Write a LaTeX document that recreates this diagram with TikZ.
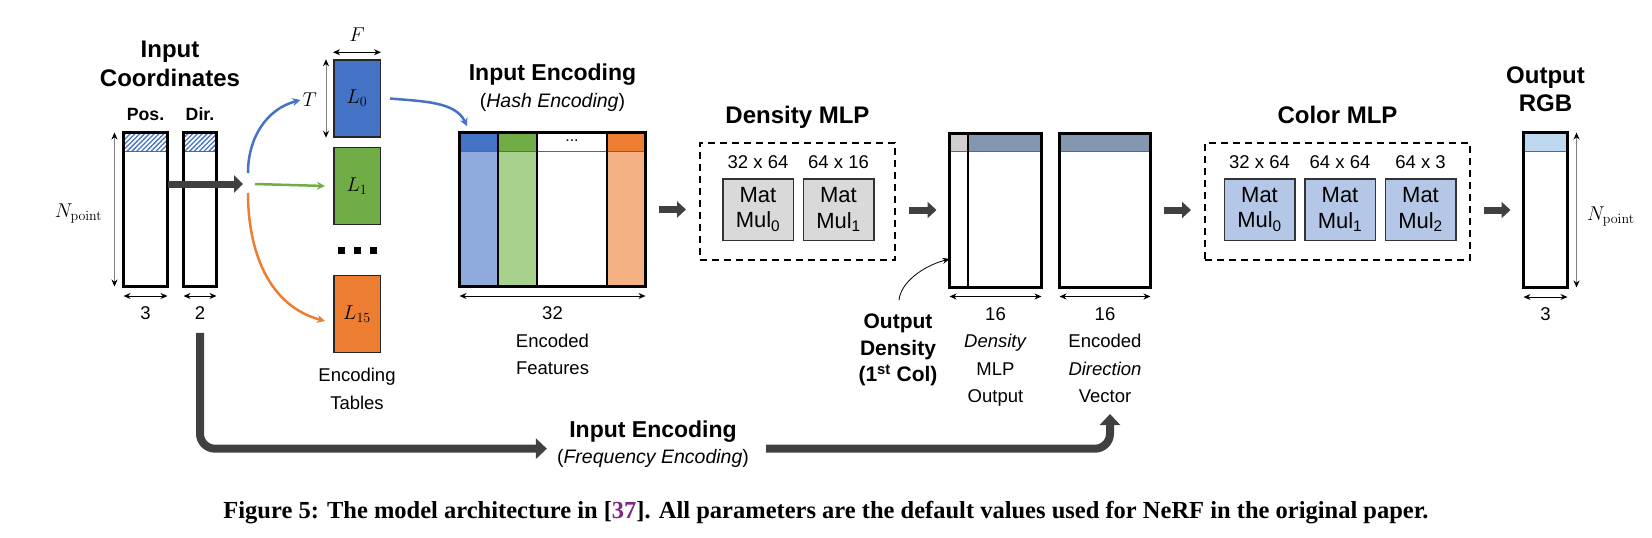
\RequirePackage{fix-cm}
\documentclass[tikz,border=0pt]{standalone}
\usepackage[no-math]{fontspec}
\setmainfont{Liberation Sans}
\newfontfamily\capfont{Liberation Serif}
\usepackage{amsmath}
\usetikzlibrary{arrows.meta,positioning,patterns.meta,calc}
\definecolor{tblue}{RGB}{68,114,196}
\definecolor{tgreen}{RGB}{112,173,71}
\definecolor{torange}{RGB}{237,125,49}
\definecolor{lblue}{RGB}{143,170,220}
\definecolor{lgreen}{RGB}{169,209,142}
\definecolor{lorange}{RGB}{244,177,131}
\definecolor{slate}{RGB}{132,151,176}
\definecolor{pale}{RGB}{208,206,206}
\definecolor{mmgray}{RGB}{217,217,217}
\definecolor{mmblue}{RGB}{180,199,231}
\definecolor{rgbhead}{RGB}{189,215,238}
\definecolor{darrow}{RGB}{64,64,64}
\definecolor{citecol}{RGB}{125,40,130}
\tikzset{font={\fontsize{18.5}{27.5}\selectfont}}
\newcommand\mathsz{\fontsize{20}{23}\selectfont}

\begin{document}
\begin{tikzpicture}[x=1pt,y=1pt,>={Stealth[length=7pt,width=6pt]},
    mat/.style={draw,line width=3pt,fill=white,inner sep=0pt,outer sep=0pt},
    head/.style={path picture={
        \fill[#1] (path picture bounding box.north west) rectangle ([yshift=-18.5pt]path picture bounding box.north east);
        \draw[line width=0.8pt,black!60] ([yshift=-18.5pt]path picture bounding box.north west) -- ([yshift=-18.5pt]path picture bounding box.north east);}},
    col/.style={draw,line width=1.5pt,inner sep=0pt,outer sep=0pt,minimum height=154pt},
    tbl/.style={draw=black!85,line width=1.5pt,inner sep=0pt,minimum width=46.5pt,minimum height=77pt,font=\mathsz},
    mmbox/.style={draw=black!80,line width=1.5pt,inner sep=0pt,minimum width=70.5pt,minimum height=61.5pt,align=center,font={\fontsize{22}{25.3}\selectfont}},
    mlp/.style={draw,dashed,dash pattern=on 7pt off 5pt,line width=2pt,minimum width=#1,minimum height=117pt},
    ttl/.style={font={\fontsize{24}{29}\selectfont\bfseries},inner sep=0pt},
    sub/.style={font={\fontsize{19.5}{24}\selectfont},inner sep=0pt},
    lbl/.style={align=center,inner sep=2pt},
    mathlbl/.style={font=\mathsz,inner sep=2pt},
    dimarr/.style={<->,line width=1pt},
    vdim/.style={{Stealth[length=7pt,width=6pt,black]}-{Stealth[length=7pt,width=6pt,black]},draw=black!50,line width=1pt},
    blk/.style={draw=darrow,line width=7pt,-{Triangle[length=9pt,width=16pt]},shorten <=13pt,shorten >=13pt},
    freq/.style={draw=darrow,line width=8pt,-{Triangle[length=11pt,width=20pt]},rounded corners=15pt},
    tarr/.style={line width=2.5pt,-{Stealth[length=8pt,width=8pt]}}]

  \useasboundingbox (0,0) rectangle (1652,-538);

  % input coordinates
  \node[mat,head={pattern={Lines[angle=45,distance=3.4pt,line width=1.3pt]},pattern color=tblue},
        minimum width=44pt,minimum height=154pt] (pos) at (145.5,-209.5) {};
  \node[mat,head={pattern={Lines[angle=45,distance=3.4pt,line width=1.3pt]},pattern color=tblue},
        minimum width=33pt,minimum height=154pt] (dir) at (200,-209.5) {};
  \node[font={\fontsize{17.7}{20}\selectfont\bfseries},inner sep=0pt,above=12pt of pos,anchor=base] {Pos.};
  \node[font={\fontsize{17.7}{20}\selectfont\bfseries},inner sep=0pt,above=12pt of dir,anchor=base] {Dir.};
  \node[ttl,anchor=base] (incb) at (170,-86.7) {Coordinates};
  \node[ttl,above=29.4pt of incb.base,anchor=base] {Input};
  \draw[vdim] ([xshift=-9pt]pos.north west) -- ([xshift=-9pt]pos.south west);
  \node[mathlbl,left=19pt of pos.west,yshift=-4.5pt] {$N_{\mathrm{point}}$};
  \draw[dimarr] ([yshift=-9.5pt]pos.south west) -- ([yshift=-9.5pt]pos.south east);
  \node[lbl,below=18pt of pos] (n3) {3};
  \draw[dimarr] ([yshift=-9.5pt]dir.south west) -- ([yshift=-9.5pt]dir.south east);
  \node[lbl,below=18pt of dir] (n2) {2};
  \coordinate (split) at (243,-184);
  \draw[blk,shorten <=0pt,shorten >=0pt,-{Triangle[length=9pt,width=17pt]}] (pos.east |- split) -- (split);

  % encoding tables
  \node[tbl,fill=tblue] (L0) at (357,-98.5) {$L_0$};
  \node[tbl,fill=tgreen,below=9pt of L0] (L1) {$L_1$};
  \node[tbl,fill=torange,below=49.5pt of L1] (L15) {$L_{15}$};
  \node (dots) at ($(L1)!0.5!(L15)$) {\rule{7pt}{7pt}\hspace{9pt}\rule{7pt}{7pt}\hspace{9pt}\rule{7pt}{7pt}};
  \node[lbl,below=13pt of L15] {Encoding\\Tables};
  \draw[vdim] ([xshift=-7pt]L0.north west) -- ([xshift=-7pt]L0.south west);
  \node[mathlbl,left=14pt of L0.west,yshift=-1.5pt] (Tl) {$T$};
  \draw[dimarr] ([yshift=7pt]L0.north west) -- ([yshift=7pt]L0.north east);
  \node[mathlbl,above=15.5pt of L0] {$F$};
  \draw[tarr,tblue] ([shift={(5pt,11pt)}]split) to[out=90,in=195] (Tl.west);
  \draw[tarr,tgreen] ([xshift=12pt]split) -- ([xshift=-8pt]L1.west);
  \draw[tarr,torange] ([shift={(5pt,-9pt)}]split) to[out=-90,in=165] ([shift={(-8pt,-7pt)}]L15.west);

  % encoded features
  \node[minimum width=186pt,minimum height=154pt,inner sep=0pt,outer sep=0pt] (enc) at (552.5,-209.5) {};
  \node[col,head=tblue,fill=lblue,minimum width=38.5pt,anchor=west] (c1) at (enc.west) {};
  \node[col,head=tgreen,fill=lgreen,minimum width=39pt,right=0pt of c1] (c2) {};
  \node[col,head=white,fill=white,minimum width=70pt,right=0pt of c2] (c3) {};
  \node[col,head=torange,fill=lorange,minimum width=38.5pt,right=0pt of c3] (c4) {};
  \node[font={\fontsize{16}{18}\selectfont},inner sep=0pt] at ([yshift=-8.5pt]c3.north) {...};
  \draw[line width=3pt] (enc.north west) rectangle (enc.south east);
  \node[sub,above=25pt of enc,anchor=base] (hsub) {(\textit{Hash Encoding})};
  \node[ttl,font={\fontsize{23}{28}\selectfont\bfseries},above=27.5pt of hsub.base,anchor=base] {Input Encoding};
  \draw[dimarr] ([yshift=-9.5pt]enc.south west) -- ([yshift=-9.5pt]enc.south east);
  \node[lbl,below=18pt of enc] {32\\Encoded\\Features};
  \draw[tarr,tblue,shorten >=7pt] ([xshift=9pt]L0.east) to[out=-5,in=115] ([xshift=10.5pt]c1.north west);

  % density mlp
  \node[mlp=195pt] (dmlp) at (797.5,-201.5) {};
  \node[ttl,above=19pt of dmlp,anchor=base] {Density MLP};
  \node[mmbox,fill=mmgray] (dm0) at (758,-209.5) {Mat\\Mul\textsubscript{0}};
  \node[mmbox,fill=mmgray,right=8.5pt of dm0] (dm1) {Mat\\Mul\textsubscript{1}};
  \node[inner sep=0pt,above=9.5pt of dm0,anchor=base] {32 x 64};
  \node[inner sep=0pt,above=9.5pt of dm1,anchor=base] {64 x 16};

  % density output
  \node[minimum width=92pt,minimum height=154pt,inner sep=0pt,outer sep=0pt] (dout) at (995.5,-210) {};
  \node[col,head=pale,fill=white,minimum width=18.5pt,anchor=west] (dc1) at (dout.west) {};
  \node[col,head=slate,fill=white,minimum width=73.5pt,right=0pt of dc1] (dc2) {};
  \draw[line width=3pt] (dout.north west) rectangle (dout.south east);
  \draw[dimarr] ([yshift=-9.5pt]dout.south west) -- ([yshift=-9.5pt]dout.south east);
  \node[lbl,below=18pt of dout] (dlbl) {16\\\textit{Density}\\MLP\\Output};
  \node[lbl,align=center,font={\fontsize{21}{26.5}\selectfont\bfseries},anchor=north] (od) at (898,-312)
    {Output\\Density\\(1\textsuperscript{st} Col)};
  \draw[->,line width=0.8pt,shorten <=12pt] (od.north) to[out=85,in=195] ([yshift=-49pt]dout.west);

  % encoded direction
  \node[mat,head=slate,minimum width=91pt,minimum height=154pt] (ddir) at (1105,-210) {};
  \draw[dimarr] ([yshift=-9.5pt]ddir.south west) -- ([yshift=-9.5pt]ddir.south east);
  \node[lbl,below=18pt of ddir] (vec) {16\\Encoded\\\textit{Direction}\\Vector};

  % color mlp
  \node[mlp=265pt] (cmlp) at (1337.5,-201.5) {};
  \node[ttl,above=19pt of cmlp,anchor=base] {Color MLP};
  \node[mmbox,fill=mmblue] (cm0) at (1259.5,-209.5) {Mat\\Mul\textsubscript{0}};
  \node[mmbox,fill=mmblue,right=8.5pt of cm0] (cm1) {Mat\\Mul\textsubscript{1}};
  \node[mmbox,fill=mmblue,right=8.5pt of cm1] (cm2) {Mat\\Mul\textsubscript{2}};
  \node[inner sep=0pt,above=9.5pt of cm0,anchor=base] {32 x 64};
  \node[inner sep=0pt,above=9.5pt of cm1,anchor=base] {64 x 64};
  \node[inner sep=0pt,above=9.5pt of cm2,anchor=base] {64 x 3};

  % output rgb
  \node[mat,head=rgbhead,minimum width=44pt,minimum height=155pt] (rgb) at (1545.5,-210) {};
  \node[ttl,above=21pt of rgb,anchor=base] (rgbt) {RGB};
  \node[ttl,above=28.5pt of rgbt.base,anchor=base] {Output};
  \draw[vdim] ([xshift=9pt]rgb.north east) -- ([xshift=9pt]rgb.south east);
  \node[mathlbl,right=17.5pt of rgb.east,yshift=-6.5pt] {$N_{\mathrm{point}}$};
  \draw[dimarr] ([yshift=-9.5pt]rgb.south west) -- ([yshift=-9.5pt]rgb.south east);
  \node[lbl,below=18pt of rgb] {3};

  % block arrows
  \draw[blk] (c4.east) -- (c4.east -| dmlp.west);
  \draw[blk] (dmlp.east |- dc1.west) -- (dc1.west);
  \draw[blk] (ddir.east) -- (ddir.east -| cmlp.west);
  \draw[blk] (cmlp.east |- rgb.west) -- (rgb.west);

  % frequency encoding path
  \node[sub,anchor=base] (fsub) at (653,-463) {(\textit{Frequency Encoding})};
  \node[ttl,font={\fontsize{23}{28}\selectfont\bfseries},above=25.7pt of fsub.base,anchor=base] {Input Encoding};
  \draw[freq,shorten >=10pt] ([yshift=-11pt]n2.south) |- (fsub.north west);
  \draw[freq,shorten <=17pt,shorten >=9pt] (fsub.north east) -| ([xshift=5pt]vec.south);

  \node[font={\capfont\bfseries\fontsize{24.5}{28}\selectfont},anchor=base] at (826,-518)
    {Figure 5: The model architecture in [\textcolor{citecol}{37}]. All parameters are the default values used for NeRF in the original paper.};
\end{tikzpicture}
\end{document}
